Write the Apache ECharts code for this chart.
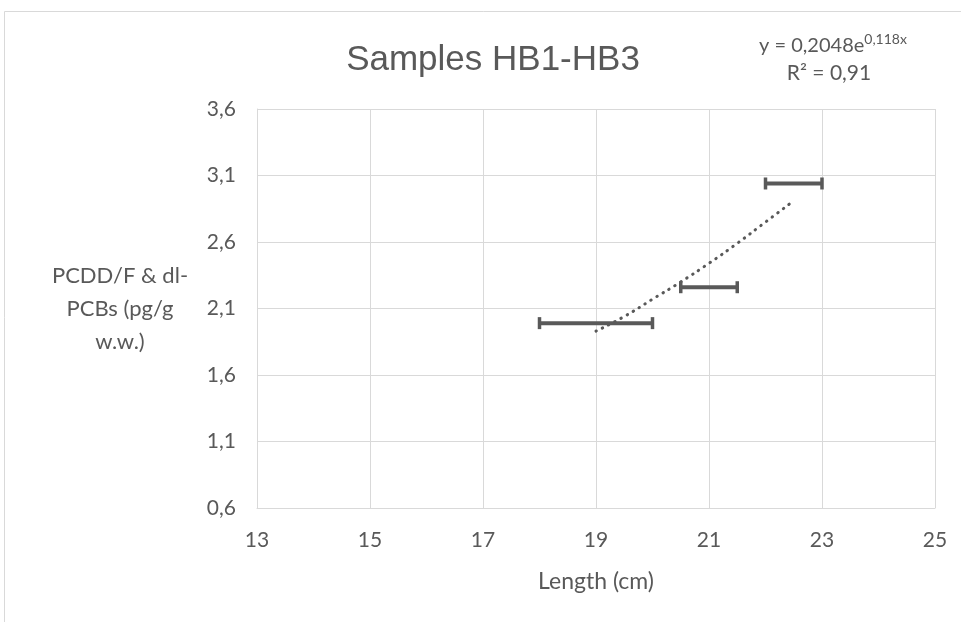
<!DOCTYPE html>
<html>
<head>
<meta charset="utf-8">
<script src="https://cdn.jsdelivr.net/npm/echarts@6/dist/echarts.min.js"></script>
<style>html,body{margin:0;padding:0;background:#fff}#c{width:961px;height:622px}</style>
</head>
<body>
<div id="c"></div>
<script>
// Tick labels
var xTickLabels = ['13', '15', '17', '19', '21', '23', '25'];
var yTickLabels = ['0,6', '1,1', '1,6', '2,1', '2,6', '3,1', '3,6'];
// Horizontal error bars: low x, high x, y
var barLow = [18, 20.5, 22];
var barHigh = [20, 21.5, 23];
var barY = [1.99, 2.26, 3.04];
// Exponential trendline points
var trendX = [19, 19.5, 20, 20.5, 21, 21.5, 22, 22.5];
var trendY = [1.93, 2.04, 2.17, 2.30, 2.44, 2.59, 2.75, 2.91];

var C = '#595959';
var barData = barLow.map(function (v, i) { return [barLow[i], barHigh[i], barY[i]]; });
var trendData = trendX.map(function (v, i) { return [trendX[i], trendY[i]]; });

var chart = echarts.init(document.getElementById('c'));
chart.setOption({
  animation: false,
  backgroundColor: '#fff',
  grid: { left: 257, right: 26, top: 109, bottom: 114 },
  title: {
    text: 'Samples HB1-HB3', left: 488, top: 38, textAlign: 'center',
    textStyle: { fontFamily: 'Liberation Sans', fontSize: 35, fontWeight: 'normal', color: C }
  },
  graphic: [
    { type: 'rect', shape: { x: 4.5, y: 11.5, width: 1100, height: 800 }, style: { fill: 'none', stroke: '#d9d9d9', lineWidth: 1 }, silent: true },
    { type: 'text', x: 833, y: 44, style: {
        text: '{a|y = 0,2048e}{s|0,118x}', align: 'center', verticalAlign: 'middle',
        rich: { a: { fontFamily: 'Lato', fontSize: 20, fill: C, verticalAlign: 'bottom' },
                s: { fontFamily: 'Lato', fontSize: 14, fill: C, verticalAlign: 'top', padding: [0, 0, 9, 0] } }
      } },
    { type: 'text', x: 829, y: 73, style: { text: 'R² = 0,91', align: 'center', verticalAlign: 'middle', fontFamily: 'Lato', fontSize: 21, fill: C } }
  ],
  xAxis: [
    { type: 'category', data: xTickLabels, boundaryGap: false,
      name: 'Length (cm)', nameLocation: 'middle', nameGap: 62,
      nameTextStyle: { fontFamily: 'Lato', fontSize: 23, color: C },
      axisLine: { lineStyle: { color: '#d9d9d9' } }, axisTick: { show: false },
      axisLabel: { fontFamily: 'Lato', fontSize: 21, color: C, margin: 22 },
      splitLine: { show: true, lineStyle: { color: '#d9d9d9', width: 1 } } },
    { type: 'value', min: 13, max: 25, show: false }
  ],
  yAxis: [
    { type: 'category', data: yTickLabels, boundaryGap: false,
      name: 'PCDD/F & dl-\nPCBs (pg/g\nw.w.)', nameLocation: 'middle', nameRotate: 0, nameGap: 137,
      nameTextStyle: { fontFamily: 'Lato', fontSize: 22, color: C, lineHeight: 33, align: 'center' },
      axisLine: { show: true, lineStyle: { color: '#d9d9d9' } }, axisTick: { show: false },
      axisLabel: { fontFamily: 'Lato', fontSize: 21, color: C, margin: 21 },
      splitLine: { show: true, lineStyle: { color: '#d9d9d9', width: 1 } } },
    { type: 'value', min: 0.6, max: 3.6, show: false }
  ],
  series: [
    { type: 'line', xAxisIndex: 1, yAxisIndex: 1, data: trendData, smooth: true, symbol: 'none',
      lineStyle: { color: C, width: 3, type: [0.5, 6.5], cap: 'round' }, z: 3 },
    { type: 'custom', xAxisIndex: 1, yAxisIndex: 1, data: barData, z: 4,
      encode: { x: [0, 1], y: 2 },
      renderItem: function (params, api) {
        var p1 = api.coord([api.value(0), api.value(2)]);
        var p2 = api.coord([api.value(1), api.value(2)]);
        var st = { stroke: C, lineWidth: 4 };
        var cst = { stroke: C, lineWidth: 3.5 };
        return { type: 'group', children: [
          { type: 'line', shape: { x1: p1[0], y1: p1[1], x2: p2[0], y2: p2[1] }, style: st },
          { type: 'line', shape: { x1: p1[0], y1: p1[1] - 6, x2: p1[0], y2: p1[1] + 6 }, style: cst },
          { type: 'line', shape: { x1: p2[0], y1: p2[1] - 6, x2: p2[0], y2: p2[1] + 6 }, style: cst }
        ] };
      } }
  ]
});
</script>
</body>
</html>
